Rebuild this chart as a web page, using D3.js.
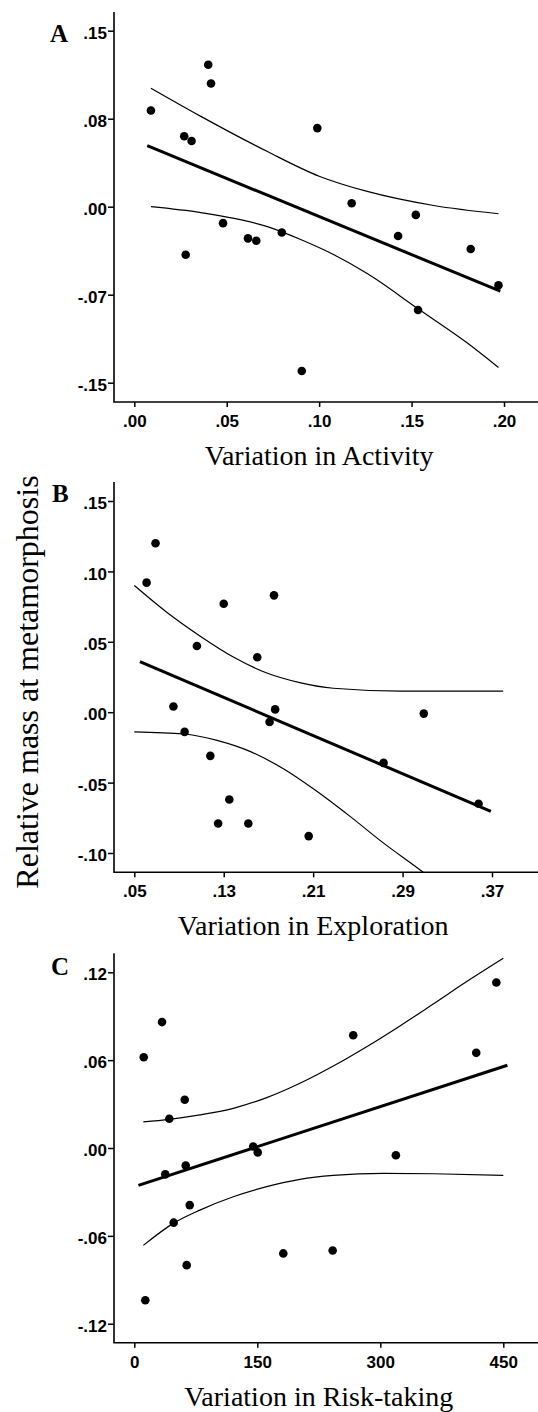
<!DOCTYPE html>
<html>
<head>
<meta charset="utf-8">
<script src="https://cdn.jsdelivr.net/npm/d3@7"></script>
<style>
body { margin: 0; background: #fff; }
.tick text { font-family: "Liberation Sans", Arial, sans-serif; font-weight: bold; font-size: 17px; fill: #000; }
.axis-title { font-family: "Liberation Serif", "Times New Roman", serif; font-size: 28px; fill: #000; }
.panel-letter { font-family: "Liberation Serif", "Times New Roman", serif; font-weight: bold; font-size: 25px; fill: #000; }
</style>
</head>
<body>
<div id="chart"></div>
<script>
// A - activity
var actX = [0.009, 0.040, 0.0415, 0.027, 0.031, 0.099, 0.1176, 0.1523, 0.048, 0.0798, 0.0615, 0.066, 0.1427, 0.0278, 0.182, 0.197, 0.1535, 0.0906];
var actY = [0.082, 0.121, 0.105, 0.060, 0.056, 0.067, 0.003, -0.007, -0.014, -0.022, -0.027, -0.029, -0.025, -0.041, -0.036, -0.067, -0.088, -0.140];
var actFitX = [0.007, 0.198];
var actFitY = [0.052, -0.072];
var actUpX = [0.009, 0.036, 0.072, 0.100, 0.126, 0.162, 0.197];
var actUpY = [0.101, 0.077, 0.047, 0.026, 0.013, 0.001, -0.006];
var actLoX = [0.009, 0.036, 0.054, 0.072, 0.090, 0.108, 0.126, 0.1535, 0.180, 0.197];
var actLoY = [0.000, -0.005, -0.010, -0.017, -0.028, -0.041, -0.057, -0.087, -0.116, -0.137];
var actTicksX = [0, 0.05, 0.10, 0.15, 0.20];
var actLabelsX = [".00", ".05", ".10", ".15", ".20"];
var actTicksY = [-0.15, -0.075, 0, 0.075, 0.15];
var actLabelsY = ["-.15", "-.07", ".00", ".08", ".15"];

// B - exploration
var expX = [0.069, 0.061, 0.130, 0.175, 0.106, 0.160, 0.085, 0.176, 0.171, 0.309, 0.095, 0.118, 0.273, 0.358, 0.135, 0.125, 0.152, 0.206];
var expY = [0.120, 0.092, 0.077, 0.083, 0.047, 0.039, 0.004, 0.002, -0.007, -0.001, -0.014, -0.031, -0.036, -0.065, -0.062, -0.079, -0.079, -0.088];
var expFitX = [0.055, 0.369];
var expFitY = [0.036, -0.0705];
var expUpX = [0.05, 0.079, 0.109, 0.139, 0.168, 0.198, 0.228, 0.288, 0.380];
var expUpY = [0.090, 0.071, 0.054, 0.039, 0.028, 0.021, 0.017, 0.015, 0.015];
var expLoX = [0.05, 0.094, 0.124, 0.154, 0.183, 0.213, 0.243, 0.273, 0.309, 0.32];
var expLoY = [-0.014, -0.0155, -0.020, -0.028, -0.040, -0.056, -0.074, -0.093, -0.114, -0.121];
var expTicksX = [0.05, 0.13, 0.21, 0.29, 0.37];
var expLabelsX = [".05", ".13", ".21", ".29", ".37"];
var expTicksY = [-0.10, -0.05, 0, 0.05, 0.10, 0.15];
var expLabelsY = ["-.10", "-.05", ".00", ".05", ".10", ".15"];

// C - risk-taking
var riskX = [11.5, 33.8, 61.5, 42.7, 267, 417, 441.5, 145, 150.5, 319, 62.7, 37.8, 67.6, 48, 63.9, 181.7, 241.9, 13.4];
var riskY = [0.062, 0.086, 0.033, 0.020, 0.077, 0.065, 0.113, 0.001, -0.003, -0.005, -0.012, -0.018, -0.039, -0.051, -0.080, -0.072, -0.070, -0.104];
var riskFitX = [5, 455];
var riskFitY = [-0.0255, 0.0565];
var riskUpX = [11, 42.7, 80, 120.7, 161.5, 202, 242.7, 283.4, 324, 364.6, 405.4, 450];
var riskUpY = [0.0178, 0.0196, 0.0226, 0.0271, 0.0344, 0.0442, 0.0560, 0.0692, 0.0834, 0.0984, 0.1137, 0.1296];
var riskLoX = [11, 48, 80, 120.7, 161.5, 202, 242.7, 303.7, 364.6, 450];
var riskLoY = [-0.0665, -0.0513, -0.0424, -0.0333, -0.0264, -0.0214, -0.0187, -0.0173, -0.0176, -0.0187];
var riskTicksX = [0, 150, 300, 450];
var riskLabelsX = ["0", "150", "300", "450"];
var riskTicksY = [-0.12, -0.06, 0, 0.06, 0.12];
var riskLabelsY = ["-.12", "-.06", ".00", ".06", ".12"];

var width = 538, height = 1412;
var left = 114, right = 538;

var panels = [
  {key: "A", title: "Variation in Activity", top: 12, bottom: 402,
   xDom: [0, 0.2], xRange: [134.3, 504], yDom: [-0.15, 0.15], yRange: [382.7, 30.7],
   px: actX, py: actY, fx: actFitX, fy: actFitY, ux: actUpX, uy: actUpY, lx: actLoX, ly: actLoY,
   xt: actTicksX, xl: actLabelsX, yt: actTicksY, yl: actLabelsY, letter: [50, 42]},
  {key: "B", title: "Variation in Exploration", top: 482, bottom: 872.3,
   xDom: [0.05, 0.37], xRange: [134.3, 492], yDom: [-0.10, 0.15], yRange: [853, 501],
   px: expX, py: expY, fx: expFitX, fy: expFitY, ux: expUpX, uy: expUpY, lx: expLoX, ly: expLoY,
   xt: expTicksX, xl: expLabelsX, yt: expTicksY, yl: expLabelsY, letter: [52, 502]},
  {key: "C", title: "Variation in Risk-taking", top: 953.3, bottom: 1342.7,
   xDom: [0, 450], xRange: [134.3, 503.3], yDom: [-0.12, 0.12], yRange: [1323.7, 972.3],
   px: riskX, py: riskY, fx: riskFitX, fy: riskFitY, ux: riskUpX, uy: riskUpY, lx: riskLoX, ly: riskLoY,
   xt: riskTicksX, xl: riskLabelsX, yt: riskTicksY, yl: riskLabelsY, letter: [51, 975]}
];

var svg = d3.select("#chart")
  .append("svg")
    .attr("width", width)
    .attr("height", height)
    .style("background", "#fff");

panels.forEach(function(p) {
  var x = d3.scaleLinear().domain(p.xDom).range(p.xRange);
  var y = d3.scaleLinear().domain(p.yDom).range(p.yRange);
  var g = svg.append("g");

  g.append("clipPath").attr("id", "clip" + p.key)
    .append("rect")
      .attr("x", left).attr("y", p.top)
      .attr("width", right - left).attr("height", p.bottom - p.top);

  // axes
  var xAxis = d3.axisBottom(x).tickValues(p.xt)
    .tickFormat(function(d, i) { return p.xl[i]; })
    .tickSize(5).tickPadding(8);
  g.append("g")
    .attr("transform", "translate(0," + p.bottom + ")")
    .call(xAxis)
    .call(function(a) { a.select(".domain").remove(); })
    .selectAll("line").attr("stroke-width", 1.5);

  var yAxis = d3.axisLeft(y).tickValues(p.yt)
    .tickFormat(function(d, i) { return p.yl[i]; })
    .tickSize(6).tickPadding(1);
  g.append("g")
    .attr("transform", "translate(" + left + ",0)")
    .call(yAxis)
    .call(function(a) {
      a.select(".domain").remove();
      a.selectAll("text").attr("dy", "0.45em");
    })
    .selectAll("line").attr("stroke-width", 1.5);

  g.append("path")
    .attr("d", "M" + left + "," + p.top + "V" + p.bottom + "H" + right)
    .attr("fill", "none").attr("stroke", "#000").attr("stroke-width", 1.6);

  var plot = g.append("g").attr("clip-path", "url(#clip" + p.key + ")");

  var band = d3.line()
    .x(function(d) { return x(d[0]); })
    .y(function(d) { return y(d[1]); })
    .curve(d3.curveMonotoneX);

  plot.append("path").datum(d3.zip(p.ux, p.uy))
    .attr("d", band).attr("fill", "none").attr("stroke", "#000").attr("stroke-width", 1.2);
  plot.append("path").datum(d3.zip(p.lx, p.ly))
    .attr("d", band).attr("fill", "none").attr("stroke", "#000").attr("stroke-width", 1.2);

  plot.append("path").datum(d3.zip(p.fx, p.fy))
    .attr("d", d3.line().x(function(d) { return x(d[0]); }).y(function(d) { return y(d[1]); }))
    .attr("fill", "none").attr("stroke", "#000").attr("stroke-width", 3);

  plot.selectAll("circle")
    .data(d3.zip(p.px, p.py))
    .enter()
    .append("circle")
      .attr("cx", function(d) { return x(d[0]); })
      .attr("cy", function(d) { return y(d[1]); })
      .attr("r", 4.3)
      .attr("fill", "#000");

  g.append("text")
    .attr("class", "axis-title")
    .attr("x", (p.xRange[0] + p.xRange[1]) / 2)
    .attr("y", p.bottom + 63)
    .attr("text-anchor", "middle")
    .text(p.title);

  g.append("text")
    .attr("class", "panel-letter")
    .attr("x", p.letter[0])
    .attr("y", p.letter[1])
    .text(p.key);
});

svg.append("text")
  .attr("class", "axis-title")
  .attr("transform", "translate(38,682) rotate(-90)")
  .attr("text-anchor", "middle")
  .style("font-size", "32px")
  .text("Relative mass at metamorphosis");
</script>
</body>
</html>
